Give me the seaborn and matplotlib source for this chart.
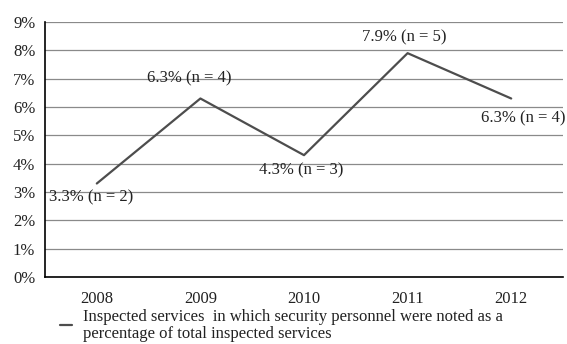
import matplotlib
matplotlib.use("Agg")
import matplotlib.pyplot as plt
import seaborn as sns
import pandas as pd

years = ["2008", "2009", "2010", "2011", "2012"]
values = [3.3, 6.3, 4.3, 7.9, 6.3]
counts = [2, 4, 3, 5, 4]
series_label = "Inspected services  in which security personnel were noted as a\npercentage of total inspected services"

df = pd.DataFrame({"year": years, "pct": values})

sns.set_theme(style="white")
plt.rcParams["font.family"] = ["Liberation Serif", "DejaVu Serif"]

fig = plt.figure(figsize=(5.67, 3.44), dpi=100)
ax = fig.add_axes([45 / 567, 1 - 277 / 344, 518 / 567, 255 / 344])

sns.lineplot(data=df, x="year", y="pct", ax=ax, color="#4d4d4d", linewidth=1.6,
             label=series_label)

ax.set_ylim(0, 9)
ax.set_xlim(-0.5, 4.5)
ax.set_yticks(range(0, 10))
ax.set_yticklabels([f"{i}%" for i in range(0, 10)])
ax.yaxis.grid(True, color="#8a8a8a", linewidth=0.9)
ax.set_axisbelow(True)
for s in ["top", "right"]:
    ax.spines[s].set_visible(False)
for s in ["left", "bottom"]:
    ax.spines[s].set_color("black")
    ax.spines[s].set_linewidth(1.2)
ax.tick_params(axis="both", length=0, labelsize=12, colors="#222222")
ax.tick_params(axis="x", pad=10)
ax.tick_params(axis="y", pad=7)
ax.set_xlabel("")
ax.set_ylabel("")

offsets = [(-6, -14), (-11, 20), (-3, -15), (-3, 16), (12, -20)]
for i, (v, n) in enumerate(zip(values, counts)):
    ax.annotate(f"{v}% (n = {n})", xy=(i, v), xytext=offsets[i],
                textcoords="offset pixels", ha="center", va="center",
                fontsize=12, color="#222222", annotation_clip=False)

leg = ax.legend(loc="upper left", bbox_to_anchor=(60 / 567, 1 - 309 / 344),
                bbox_transform=fig.transFigure, frameon=False, fontsize=12,
                handlelength=0.7, handletextpad=0.7, labelspacing=0.2,
                borderaxespad=0, borderpad=0)
for t in leg.get_texts():
    t.set_color("#222222")
    t.set_linespacing(1.05)

fig.savefig("out.png", dpi=100)
